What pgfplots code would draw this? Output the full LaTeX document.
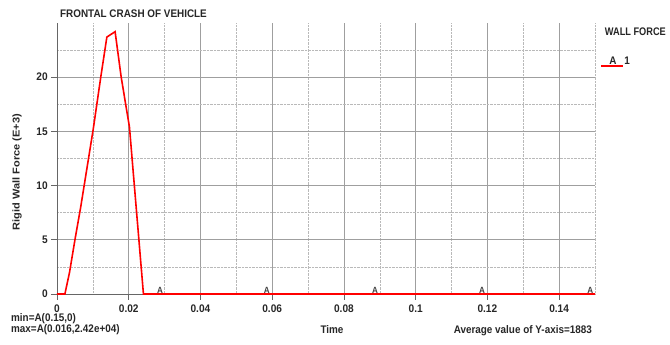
\documentclass[border=0pt]{standalone}
\usepackage{fontspec}
\setmainfont{Liberation Sans}
\usepackage{pgfplots}
\pgfplotsset{compat=1.18}
\begin{document}
\begin{tikzpicture}[x=1pt,y=1pt]
\useasboundingbox (-57,-51) rectangle (613,294);
\tikzset{lbl/.style={font=\bfseries\fontsize{11}{12}\selectfont, text=black!85, xscale=0.9}}
\begin{axis}[
  at={(0,0)}, anchor=south west,
  scale only axis, width=538pt, height=271pt,
  xmin=0, xmax=0.15, ymin=0, ymax=25,
  axis lines*=left,
  axis line style={gray!80!black, line width=0.7pt},
  xtick={0,0.02,0.04,0.06,0.08,0.1,0.12,0.14},
  xticklabels={0,0.02,0.04,0.06,0.08,0.1,0.12,0.14},
  ytick={0,5,10,15,20},
  minor xtick={0.01,0.03,0.05,0.07,0.09,0.11,0.13,0.15},
  minor ytick={2.5,7.5,12.5,17.5,22.5},
  grid=both,
  major grid style={gray!75, line width=0.7pt},
  minor grid style={gray!55, densely dotted, line width=0.6pt},
  tick align=outside, major tick length=6pt, minor tick length=0pt,
  tick style={gray!80!black, line width=0.7pt},
  xticklabel style={font=\bfseries\fontsize{11}{12}\selectfont, text=black!85, xscale=0.92, yshift=-1pt},
  yticklabel style={font=\bfseries\fontsize{11}{12}\selectfont, text=black!85, xscale=0.92},
  /pgf/number format/assume math mode=true,
  clip=false,
]
\addplot[red, line width=1.6pt] coordinates {
  (0,0) (0.0022,0) (0.0035,2) (0.005,5) (0.0066,8) (0.0083,11.5) (0.0101,15.2) (0.0122,20)
  (0.0139,23.7) (0.0162,24.2) (0.0179,20) (0.0202,15.4) (0.0241,0) (0.15,0)
};
\addplot[draw=none, nodes near coords={A},
  every node near coord/.style={anchor=south, inner sep=0.5pt, font=\bfseries\fontsize{9}{10}\selectfont, text=black!75, xscale=0.9}]
  coordinates {(0.0287,0) (0.0585,0) (0.0887,0) (0.1185,0) (0.1487,0)};
\end{axis}
\node[lbl, anchor=west] at (0,280) {FRONTAL CRASH OF VEHICLE};
\node[lbl, anchor=west, xscale=0.93] at (545,262) {WALL FORCE};
\draw[red, line width=1.6pt] (544,228) -- (566,228);
\node[lbl, anchor=south, inner sep=0.5pt] at (556,229) {A};
\node[lbl, anchor=south, inner sep=0.5pt] at (570,229) {1};
\node[lbl, rotate=90] at (-40,122) {Rigid Wall Force (E+3)};
\node[lbl] at (275,-36) {Time};
\node[lbl, anchor=west] at (-49,-25) {min=A(0.15,0)};
\node[lbl, anchor=west] at (-49,-36) {max=A(0.016,2.42e+04)};
\node[lbl, anchor=east] at (538,-37) {Average value of Y-axis=1883};
\end{tikzpicture}
\end{document}
